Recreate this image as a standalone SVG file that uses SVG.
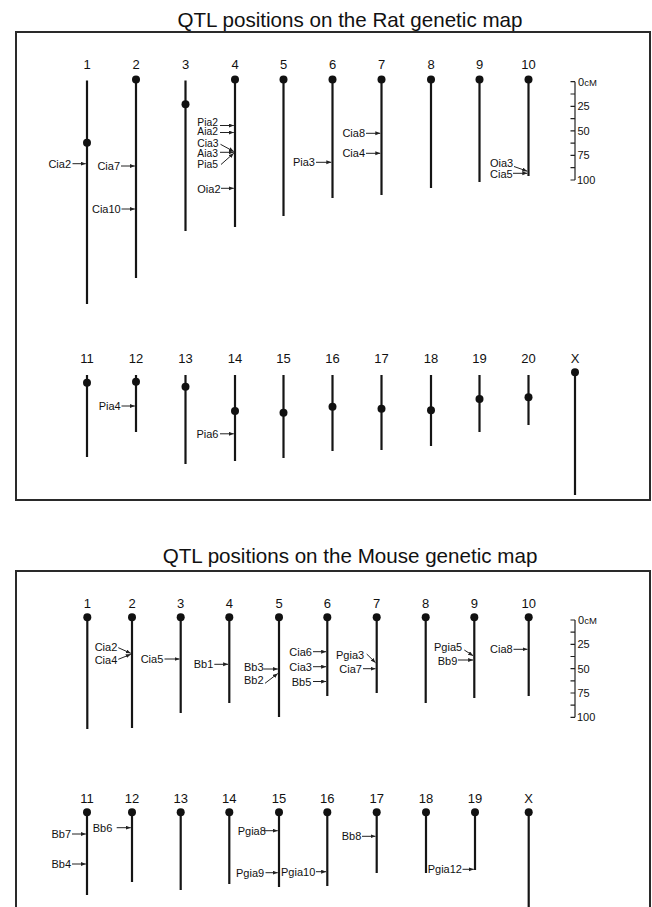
<svg xmlns="http://www.w3.org/2000/svg" width="652" height="907" viewBox="0 0 652 907">
  <style>
    .title { font-family: "Liberation Sans", Arial, sans-serif; font-size: 20.6px; fill: #111; text-anchor: middle; }
    .num { font-family: "Liberation Sans", Arial, sans-serif; font-size: 13px; fill: #111; text-anchor: middle; }
    .lbl { font-family: "Liberation Sans", Arial, sans-serif; font-size: 11px; fill: #111; }
    .tight { font-size: 10.3px; }
    .end { text-anchor: end; }
    .sc { font-family: "Liberation Sans", Arial, sans-serif; font-size: 11px; fill: #111; }
    .chr { stroke: #151515; stroke-width: 2.2; fill: none; }
    .cen { fill: #111; }
    .box { stroke: #2a2a2a; stroke-width: 2; fill: none; }
    .tick { stroke: #222; stroke-width: 1.2; fill: none; }
    .arr { stroke: #222; stroke-width: 1; fill: none; marker-end: url(#head); }
  </style>
  <defs>
    <marker id="head" markerUnits="userSpaceOnUse" markerWidth="6" markerHeight="6" refX="5" refY="2" orient="auto">
      <path d="M0,0 L5,2 L0,4 z" fill="#222"/>
    </marker>
  </defs>
  <rect width="652" height="907" fill="#fff"/>

  <!-- ================= Rat panel ================= -->
  <text class="title" x="350" y="27">QTL positions on the Rat genetic map</text>
  <rect class="box" x="16" y="32" width="634" height="468"/>

  <g id="rat-chr1"><text class="num" x="87" y="68.5">1</text><line class="chr" x1="87" y1="80.5" x2="87" y2="304"/><circle class="cen" cx="87" cy="142.7" r="4"/></g>
  <g id="rat-chr2"><text class="num" x="136" y="68.5">2</text><line class="chr" x1="136" y1="79.5" x2="136" y2="278"/><circle class="cen" cx="136" cy="79.5" r="4"/></g>
  <g id="rat-chr3"><text class="num" x="185.5" y="68.5">3</text><line class="chr" x1="185.5" y1="80.5" x2="185.5" y2="231"/><circle class="cen" cx="185.5" cy="104.3" r="4"/></g>
  <g id="rat-chr4"><text class="num" x="235" y="68.5">4</text><line class="chr" x1="235" y1="79.5" x2="235" y2="227"/><circle class="cen" cx="235" cy="79.5" r="4"/></g>
  <g id="rat-chr5"><text class="num" x="283.5" y="68.5">5</text><line class="chr" x1="283.5" y1="79.5" x2="283.5" y2="216"/><circle class="cen" cx="283.5" cy="79.5" r="4"/></g>
  <g id="rat-chr6"><text class="num" x="332.5" y="68.5">6</text><line class="chr" x1="332.5" y1="79.5" x2="332.5" y2="198"/><circle class="cen" cx="332.5" cy="79.5" r="4"/></g>
  <g id="rat-chr7"><text class="num" x="381.5" y="68.5">7</text><line class="chr" x1="381.5" y1="79.5" x2="381.5" y2="195"/><circle class="cen" cx="381.5" cy="79.5" r="4"/></g>
  <g id="rat-chr8"><text class="num" x="431" y="68.5">8</text><line class="chr" x1="431" y1="79.5" x2="431" y2="188"/><circle class="cen" cx="431" cy="79.5" r="4"/></g>
  <g id="rat-chr9"><text class="num" x="479.5" y="68.5">9</text><line class="chr" x1="479.5" y1="79.5" x2="479.5" y2="182"/><circle class="cen" cx="479.5" cy="79.5" r="4"/></g>
  <g id="rat-chr10"><text class="num" x="528.5" y="68.5">10</text><line class="chr" x1="528.5" y1="79.5" x2="528.5" y2="176"/><circle class="cen" cx="528.5" cy="79.5" r="4"/></g>

  <g id="rat-scale">
    <path class="tick" d="M575,81.7 V180 M570.5,81.7 H575 M570.5,94 H575 M570.5,106.3 H575 M570.5,118.6 H575 M570.5,130.9 H575 M570.5,143.1 H575 M570.5,155.4 H575 M570.5,167.7 H575 M570.5,180 H575"/>
    <text class="sc" x="578" y="85.5">0<tspan font-size="9.5">cM</tspan></text>
    <text class="sc" x="577.5" y="110.3">25</text>
    <text class="sc" x="577.5" y="134.9">50</text>
    <text class="sc" x="577.5" y="159.4">75</text>
    <text class="sc" x="577" y="184">100</text>
  </g>

  <g id="rat-chr11"><text class="num" x="87" y="362.5">11</text><line class="chr" x1="87" y1="375" x2="87" y2="457"/><circle class="cen" cx="87" cy="382.7" r="4"/></g>
  <g id="rat-chr12"><text class="num" x="136" y="362.5">12</text><line class="chr" x1="136" y1="375" x2="136" y2="432"/><circle class="cen" cx="136" cy="381.7" r="4"/></g>
  <g id="rat-chr13"><text class="num" x="185.5" y="362.5">13</text><line class="chr" x1="185.5" y1="375" x2="185.5" y2="464"/><circle class="cen" cx="185.5" cy="386.7" r="4"/></g>
  <g id="rat-chr14"><text class="num" x="235" y="362.5">14</text><line class="chr" x1="235" y1="375" x2="235" y2="461"/><circle class="cen" cx="235" cy="411" r="4"/></g>
  <g id="rat-chr15"><text class="num" x="283.5" y="362.5">15</text><line class="chr" x1="283.5" y1="375" x2="283.5" y2="458"/><circle class="cen" cx="283.5" cy="412.7" r="4"/></g>
  <g id="rat-chr16"><text class="num" x="332.5" y="362.5">16</text><line class="chr" x1="332.5" y1="375" x2="332.5" y2="451"/><circle class="cen" cx="332.5" cy="406.7" r="4"/></g>
  <g id="rat-chr17"><text class="num" x="381.5" y="362.5">17</text><line class="chr" x1="381.5" y1="375" x2="381.5" y2="450"/><circle class="cen" cx="381.5" cy="408.7" r="4"/></g>
  <g id="rat-chr18"><text class="num" x="431" y="362.5">18</text><line class="chr" x1="431" y1="375" x2="431" y2="446"/><circle class="cen" cx="431" cy="410.3" r="4"/></g>
  <g id="rat-chr19"><text class="num" x="479.5" y="362.5">19</text><line class="chr" x1="479.5" y1="375" x2="479.5" y2="432"/><circle class="cen" cx="479.5" cy="399" r="4"/></g>
  <g id="rat-chr20"><text class="num" x="528.5" y="362.5">20</text><line class="chr" x1="528.5" y1="375" x2="528.5" y2="425"/><circle class="cen" cx="528.5" cy="397.3" r="4"/></g>
  <g id="rat-chrX"><text class="num" x="575" y="362.5">X</text><line class="chr" x1="575" y1="372.3" x2="575" y2="495"/><circle class="cen" cx="575" cy="372.3" r="4"/></g>

  <!-- rat QTL labels -->
  <g id="rat-qtl-labels">
    <text class="lbl end" x="71" y="167.7">Cia2</text>
    <text class="lbl end" x="120" y="170">Cia7</text>
    <text class="lbl end" x="120.7" y="213">Cia10</text>
    <text class="lbl tight" x="197.3" y="125.8">Pia2</text>
    <text class="lbl tight" x="197.3" y="135">Aia2</text>
    <text class="lbl tight" x="197.3" y="146.5">Cia3</text>
    <text class="lbl tight" x="197.3" y="156.8">Aia3</text>
    <text class="lbl tight" x="197.3" y="167.5">Pia5</text>
    <text class="lbl" x="197.3" y="193">Oia2</text>
    <text class="lbl end" x="315" y="166.3">Pia3</text>
    <text class="lbl end" x="365" y="137.3">Cia8</text>
    <text class="lbl end" x="365" y="157.3">Cia4</text>
    <text class="lbl" x="490" y="167">Oia3</text>
    <text class="lbl" x="490" y="178">Cia5</text>
    <text class="lbl end" x="120.7" y="410">Pia4</text>
    <text class="lbl end" x="218.5" y="437.7">Pia6</text>
  </g>

  <!-- ================= Mouse panel ================= -->
  <text class="title" x="350" y="563.3">QTL positions on the Mouse genetic map</text>
  <path class="box" d="M16,912 V571 H650 V912"/>

  <g id="mouse-chr1"><text class="num" x="87.3" y="607.7">1</text><line class="chr" x1="87.3" y1="617.3" x2="87.3" y2="729"/><circle class="cen" cx="87.3" cy="617.3" r="4"/></g>
  <g id="mouse-chr2"><text class="num" x="132" y="607.7">2</text><line class="chr" x1="132" y1="617.3" x2="132" y2="728"/><circle class="cen" cx="132" cy="617.3" r="4"/></g>
  <g id="mouse-chr3"><text class="num" x="180.7" y="607.7">3</text><line class="chr" x1="180.7" y1="617.3" x2="180.7" y2="713"/><circle class="cen" cx="180.7" cy="617.3" r="4"/></g>
  <g id="mouse-chr4"><text class="num" x="229.3" y="607.7">4</text><line class="chr" x1="229.3" y1="617.3" x2="229.3" y2="703"/><circle class="cen" cx="229.3" cy="617.3" r="4"/></g>
  <g id="mouse-chr5"><text class="num" x="279" y="607.7">5</text><line class="chr" x1="279" y1="617.3" x2="279" y2="717"/><circle class="cen" cx="279" cy="617.3" r="4"/></g>
  <g id="mouse-chr6"><text class="num" x="327.3" y="607.7">6</text><line class="chr" x1="327.3" y1="617.3" x2="327.3" y2="696"/><circle class="cen" cx="327.3" cy="617.3" r="4"/></g>
  <g id="mouse-chr7"><text class="num" x="376.7" y="607.7">7</text><line class="chr" x1="376.7" y1="617.3" x2="376.7" y2="693"/><circle class="cen" cx="376.7" cy="617.3" r="4"/></g>
  <g id="mouse-chr8"><text class="num" x="425.7" y="607.7">8</text><line class="chr" x1="425.7" y1="617.3" x2="425.7" y2="703"/><circle class="cen" cx="425.7" cy="617.3" r="4"/></g>
  <g id="mouse-chr9"><text class="num" x="474.3" y="607.7">9</text><line class="chr" x1="474.3" y1="617.3" x2="474.3" y2="698"/><circle class="cen" cx="474.3" cy="617.3" r="4"/></g>
  <g id="mouse-chr10"><text class="num" x="528.7" y="607.7">10</text><line class="chr" x1="528.7" y1="617.3" x2="528.7" y2="696"/><circle class="cen" cx="528.7" cy="617.3" r="4"/></g>

  <g id="mouse-scale">
    <path class="tick" d="M575,620 V717.3 M570.5,620 H575 M570.5,632.2 H575 M570.5,644.3 H575 M570.5,656.5 H575 M570.5,668.7 H575 M570.5,680.8 H575 M570.5,693 H575 M570.5,705.1 H575 M570.5,717.3 H575"/>
    <text class="sc" x="578" y="624">0<tspan font-size="9.5">cM</tspan></text>
    <text class="sc" x="577.5" y="648.3">25</text>
    <text class="sc" x="577.5" y="672.7">50</text>
    <text class="sc" x="577.5" y="697">75</text>
    <text class="sc" x="577" y="721.3">100</text>
  </g>

  <g id="mouse-chr11"><text class="num" x="87" y="802.7">11</text><line class="chr" x1="87" y1="812.3" x2="87" y2="895"/><circle class="cen" cx="87" cy="812.3" r="4"/></g>
  <g id="mouse-chr12"><text class="num" x="132" y="802.7">12</text><line class="chr" x1="132" y1="812.3" x2="132" y2="882"/><circle class="cen" cx="132" cy="812.3" r="4"/></g>
  <g id="mouse-chr13"><text class="num" x="180.7" y="802.7">13</text><line class="chr" x1="180.7" y1="812.3" x2="180.7" y2="890"/><circle class="cen" cx="180.7" cy="812.3" r="4"/></g>
  <g id="mouse-chr14"><text class="num" x="229.3" y="802.7">14</text><line class="chr" x1="229.3" y1="812.3" x2="229.3" y2="884"/><circle class="cen" cx="229.3" cy="812.3" r="4"/></g>
  <g id="mouse-chr15"><text class="num" x="279" y="802.7">15</text><line class="chr" x1="279" y1="812.3" x2="279" y2="887"/><circle class="cen" cx="279" cy="812.3" r="4"/></g>
  <g id="mouse-chr16"><text class="num" x="327.3" y="802.7">16</text><line class="chr" x1="327.3" y1="812.3" x2="327.3" y2="886"/><circle class="cen" cx="327.3" cy="812.3" r="4"/></g>
  <g id="mouse-chr17"><text class="num" x="376.7" y="802.7">17</text><line class="chr" x1="376.7" y1="812.3" x2="376.7" y2="873"/><circle class="cen" cx="376.7" cy="812.3" r="4"/></g>
  <g id="mouse-chr18"><text class="num" x="426" y="802.7">18</text><line class="chr" x1="426" y1="812.3" x2="426" y2="873"/><circle class="cen" cx="426" cy="812.3" r="4"/></g>
  <g id="mouse-chr19"><text class="num" x="475" y="802.7">19</text><line class="chr" x1="475" y1="812.3" x2="475" y2="870"/><circle class="cen" cx="475" cy="812.3" r="4"/></g>
  <g id="mouse-chrX"><text class="num" x="528.7" y="802.7">X</text><line class="chr" x1="528.7" y1="812.3" x2="528.7" y2="912"/><circle class="cen" cx="528.7" cy="812.3" r="4"/></g>

  <!-- mouse QTL labels -->
  <g id="mouse-qtl-labels">
    <text class="lbl end" x="117.3" y="650.5">Cia2</text>
    <text class="lbl end" x="117.3" y="664">Cia4</text>
    <text class="lbl end" x="163.3" y="663">Cia5</text>
    <text class="lbl end" x="213.3" y="668">Bb1</text>
    <text class="lbl" x="244" y="670.5">Bb3</text>
    <text class="lbl" x="244" y="684">Bb2</text>
    <text class="lbl" x="289.3" y="655.5">Cia6</text>
    <text class="lbl" x="289.3" y="670.5">Cia3</text>
    <text class="lbl" x="291.7" y="685.5">Bb5</text>
    <text class="lbl" x="336" y="659">Pgia3</text>
    <text class="lbl" x="339.3" y="673">Cia7</text>
    <text class="lbl" x="434" y="650.5">Pgia5</text>
    <text class="lbl" x="437.7" y="664.5">Bb9</text>
    <text class="lbl end" x="512.7" y="653">Cia8</text>
    <text class="lbl end" x="71" y="838">Bb7</text>
    <text class="lbl end" x="71" y="868">Bb4</text>
    <text class="lbl" x="92.7" y="831.5">Bb6</text>
    <text class="lbl" x="237.7" y="834.5">Pgia8</text>
    <text class="lbl" x="236" y="876.5">Pgia9</text>
    <text class="lbl" x="281" y="875.5">Pgia10</text>
    <text class="lbl" x="341.7" y="840">Bb8</text>
    <text class="lbl" x="427.7" y="873">Pgia12</text>
  </g>

  <!-- QTL pointer arrows -->
  <g id="connectors">
    <line class="arr" x1="72.5" y1="163.7" x2="85.8" y2="163.7"/>
    <line class="arr" x1="121" y1="166" x2="134.8" y2="166"/>
    <line class="arr" x1="121.5" y1="209" x2="134.8" y2="209"/>
    <line class="arr" x1="220" y1="125.5" x2="233.8" y2="125.5"/>
    <line class="arr" x1="220" y1="132.5" x2="233.8" y2="132.5"/>
    <line class="arr" x1="220.5" y1="144.3" x2="233.8" y2="151.5"/>
    <line class="arr" x1="220" y1="152.3" x2="233.8" y2="152.3"/>
    <line class="arr" x1="221" y1="164.5" x2="233.8" y2="153.2"/>
    <line class="arr" x1="221" y1="188.3" x2="233.8" y2="188.3"/>
    <line class="arr" x1="316" y1="162.3" x2="331.3" y2="162.3"/>
    <line class="arr" x1="366" y1="133.3" x2="380.3" y2="133.3"/>
    <line class="arr" x1="366" y1="153.3" x2="380.3" y2="153.3"/>
    <line class="arr" x1="514" y1="166.5" x2="527.3" y2="171.2"/>
    <line class="arr" x1="513" y1="173.3" x2="527.3" y2="173.3"/>
    <line class="arr" x1="121.5" y1="406" x2="134.8" y2="406"/>
    <line class="arr" x1="220" y1="433.8" x2="233.8" y2="433.8"/>

    <line class="arr" x1="118.3" y1="647.7" x2="130.8" y2="653.3"/>
    <line class="arr" x1="118.3" y1="659.3" x2="130.8" y2="654.3"/>
    <line class="arr" x1="164.5" y1="659" x2="179.5" y2="659"/>
    <line class="arr" x1="214.3" y1="664.3" x2="228.1" y2="664.3"/>
    <line class="arr" x1="263.3" y1="669" x2="277.8" y2="669"/>
    <line class="arr" x1="265" y1="683.3" x2="277.8" y2="673.5"/>
    <line class="arr" x1="313" y1="651.7" x2="326.1" y2="651.7"/>
    <line class="arr" x1="313" y1="666.7" x2="326.1" y2="666.7"/>
    <line class="arr" x1="313" y1="681.5" x2="326.1" y2="681.5"/>
    <line class="arr" x1="366.7" y1="654" x2="375.5" y2="662.7"/>
    <line class="arr" x1="363" y1="668.7" x2="375.5" y2="668.7"/>
    <line class="arr" x1="464.3" y1="650" x2="473.1" y2="655.7"/>
    <line class="arr" x1="458" y1="660" x2="473.1" y2="660"/>
    <line class="arr" x1="513.5" y1="649.3" x2="527.5" y2="649.3"/>
    <line class="arr" x1="72" y1="834" x2="85.8" y2="834"/>
    <line class="arr" x1="72" y1="864" x2="85.8" y2="864"/>
    <line class="arr" x1="116.7" y1="827.7" x2="130.8" y2="827.7"/>
    <line class="arr" x1="264" y1="830.7" x2="277.8" y2="830.7"/>
    <line class="arr" x1="265.5" y1="872.7" x2="277.8" y2="872.7"/>
    <line class="arr" x1="316" y1="871.7" x2="326.1" y2="871.7"/>
    <line class="arr" x1="362" y1="836.3" x2="375.5" y2="836.3"/>
    <line class="arr" x1="462.5" y1="869.3" x2="473.8" y2="869.3"/>
  </g>
</svg>
